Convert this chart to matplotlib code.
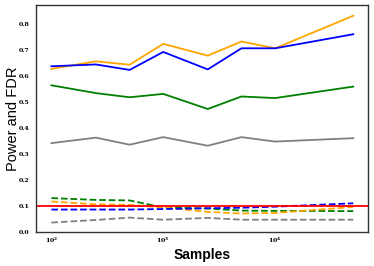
import numpy as np
import matplotlib
matplotlib.use("Agg")
import matplotlib.pyplot as plt

samples = [100, 250, 500, 1000, 2500, 5000, 10000, 50000]

power_orange = [0.626, 0.655, 0.642, 0.722, 0.677, 0.731, 0.705, 0.830]
power_blue = [0.636, 0.643, 0.622, 0.691, 0.624, 0.705, 0.705, 0.759]
power_green = [0.563, 0.533, 0.517, 0.530, 0.472, 0.520, 0.514, 0.558]
power_gray = [0.341, 0.362, 0.335, 0.364, 0.331, 0.364, 0.347, 0.360]

fdr_green = [0.130, 0.123, 0.121, 0.094, 0.090, 0.082, 0.081, 0.080]
fdr_orange = [0.117, 0.106, 0.104, 0.094, 0.077, 0.071, 0.073, 0.096]
fdr_blue = [0.086, 0.086, 0.086, 0.088, 0.091, 0.093, 0.097, 0.110]
fdr_gray = [0.036, 0.046, 0.055, 0.047, 0.054, 0.047, 0.047, 0.047]

alpha = 0.1

fig, ax = plt.subplots(figsize=(3.74, 2.66), dpi=100)

for vals, c in [(power_orange, "orange"), (power_blue, "blue"),
                (power_green, "green"), (power_gray, "gray")]:
    ax.plot(samples, vals, color=c, lw=1.3)

for vals, c in [(fdr_green, "green"), (fdr_orange, "orange"),
                (fdr_blue, "blue"), (fdr_gray, "gray")]:
    ax.plot(samples, vals, color=c, lw=1.3, ls="--")

ax.axhline(alpha, color="red", lw=1.3)

ax.set_xscale("log")
ax.set_ylim(0, 0.87)
ax.set_yticks([0.0, 0.1, 0.2, 0.3, 0.4, 0.5, 0.6, 0.7, 0.8])
ax.minorticks_off()
ax.tick_params(axis="y", length=0, pad=5)
ax.tick_params(axis="x", length=0, pad=3)
for lab in ax.get_xticklabels() + ax.get_yticklabels():
    lab.set_fontfamily("DejaVu Serif")
    lab.set_fontweight("bold")
    lab.set_fontsize(4.5)

for s in ax.spines.values():
    s.set_color("#333333")
    s.set_linewidth(1.0)

ax.set_xlabel("Samples", fontsize=10, fontweight="bold",
              family="Liberation Sans", labelpad=2)
ax.set_ylabel("Power and FDR", fontsize=10.5, fontweight="medium",
              family="Liberation Sans")
ax.yaxis.set_label_coords(-0.05, 0.5)

fig.subplots_adjust(left=0.097, right=0.985, top=0.98, bottom=0.128)
fig.savefig("out.png", dpi=100)
